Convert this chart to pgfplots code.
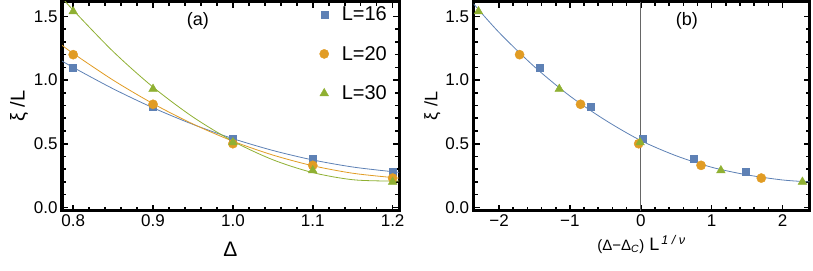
\documentclass[border=0pt]{standalone}
\usepackage{pgfplots}
\pgfplotsset{compat=1.18}
\usepackage{fontspec}
\setmainfont{Liberation Sans}
\definecolor{mblue}{HTML}{5E81B5}
\definecolor{morange}{HTML}{E19C24}
\definecolor{mgreen}{HTML}{8FB032}
\pgfplotsset{
  mystyle/.style={
    scale only axis,
    height=209bp,
    axis line style={line width=3bp},
    major tick length=6bp, minor tick length=4bp,
    every tick/.style={black, line width=1.6bp},
    tick label style={font=\fontsize{17bp}{20bp}\selectfont, black},
    minor x tick num=4, minor y tick num=4,
    ymin=-0.025, ymax=1.618,
    ytick={0,0.5,1,1.5}, yticklabels={0.0,0.5,1.0,1.5},
    xticklabel style={yshift=-1bp},
    yticklabel style={xshift=-1bp},
  },
  pblue/.style={only marks, mark=square*, mark size=3.5bp, color=mblue},
  porange/.style={only marks, mark=*, mark size=4.6bp, color=morange},
  pgreen/.style={only marks, mark=triangle*, mark size=5bp, color=mgreen},
}
\begin{document}
\begin{tikzpicture}
\path[use as bounding box] (0,0) rectangle (813bp,-271bp);
% ---------------- panel (a)
\begin{axis}[mystyle,
  at={(62bp,-210.5bp)}, anchor=south west,
  width=337bp,
  xmin=0.786, xmax=1.208,
  xtick={0.8,0.9,1.0,1.1,1.2}, xticklabels={0.8,0.9,1.0,1.1,1.2},
  xlabel={Δ},
  xlabel style={font=\fontsize{21bp}{22bp}\selectfont, yshift=-8bp},
  ylabel={ξ /L},
  ylabel style={font=\fontsize{20bp}{22bp}\selectfont, yshift=-1bp},
  legend style={draw=none, fill=none, font=\fontsize{20bp}{22bp}\selectfont,
    at={(axis description cs:0.755,0.995)}, anchor=north west, row sep=20bp,
    column sep=11bp},
  legend cell align=left,
]
\addplot[mblue, line width=0.8bp, smooth, forget plot] coordinates {
(0.786,1.150) (0.8,1.100) (0.85,0.932) (0.9,0.7825) (0.95,0.652) (1.0,0.540)
(1.05,0.447) (1.1,0.3725) (1.15,0.317) (1.2,0.280) (1.208,0.276)};
\addplot[morange, line width=0.8bp, smooth, forget plot] coordinates {
(0.786,1.274) (0.8,1.210) (0.85,1.000) (0.9,0.815) (0.95,0.655) (1.0,0.520)
(1.05,0.411) (1.1,0.327) (1.15,0.268) (1.2,0.234) (1.208,0.231)};
\addplot[mgreen, line width=0.8bp, smooth, forget plot] coordinates {
(0.788,1.634) (0.8,1.550) (0.85,1.225) (0.9,0.945) (0.95,0.710) (1.0,0.520)
(1.05,0.374) (1.1,0.273) (1.15,0.217) (1.2,0.206) (1.208,0.208)};
\addplot[pblue] coordinates {(0.8,1.10) (0.9,0.79) (1.0,0.54) (1.1,0.38) (1.2,0.28)};
\addlegendentry{L=16}
\addplot[porange] coordinates {(0.8,1.20) (0.9,0.81) (1.0,0.50) (1.1,0.33) (1.2,0.23)};
\addlegendentry{L=20}
\addplot[pgreen] coordinates {(0.8,1.54) (0.9,0.93) (1.0,0.51) (1.1,0.29) (1.2,0.20)};
\addlegendentry{L=30}
\node[font=\fontsize{18bp}{20bp}\selectfont] at (axis cs:0.956,1.468) {(a)};
\end{axis}
% ---------------- panel (b)
\begin{axis}[mystyle,
  at={(473.5bp,-210.5bp)}, anchor=south west,
  width=336bp,
  xmin=-2.36, xmax=2.38,
  xtick={-2,-1,0,1,2}, xticklabels={−2,−1,0,1,2},
  xlabel={{\fontsize{15bp}{17bp}\selectfont(Δ−Δ\textsubscript{\textit{C}})} L\textsuperscript{\,\textit{1 / ν}}},
  xlabel style={font=\fontsize{18bp}{20bp}\selectfont, yshift=-1bp},
  ylabel={ξ /L},
  ylabel style={font=\fontsize{18bp}{20bp}\selectfont, yshift=-2bp},
]
\addplot[color=black!60, line width=1bp, forget plot] coordinates {(0,-0.025) (0,1.618)};
\addplot[mblue, line width=0.8bp, smooth, forget plot] coordinates {
(-2.36,1.60) (-2.0,1.375) (-1.5,1.105) (-1.0,0.875) (-0.5,0.685) (0,0.525)
(0.5,0.405) (1.0,0.315) (1.5,0.255) (2.0,0.215) (2.38,0.200)};
\addplot[pblue] coordinates {(-1.43,1.10) (-0.70,0.79) (0.02,0.54) (0.75,0.38) (1.48,0.28)};
\addplot[porange] coordinates {(-1.71,1.20) (-0.85,0.81) (-0.03,0.50) (0.85,0.33) (1.70,0.23)};
\addplot[pgreen] coordinates {(-2.29,1.54) (-1.15,0.93) (-0.01,0.51) (1.13,0.29) (2.28,0.20)};
\node[font=\fontsize{18bp}{20bp}\selectfont] at (axis cs:0.65,1.468) {(b)};
\end{axis}
\end{tikzpicture}
\end{document}
